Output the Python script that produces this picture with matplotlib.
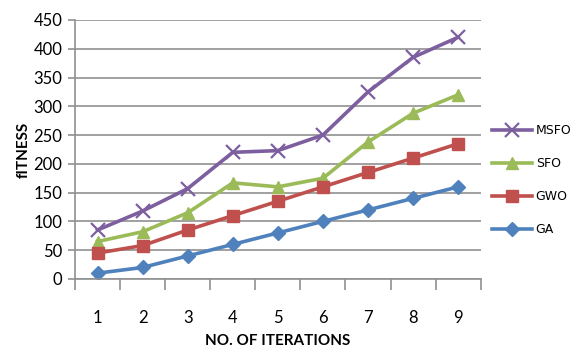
import numpy as np
import matplotlib
matplotlib.use("Agg")
import matplotlib.pyplot as plt

# dati
iterations = [1, 2, 3, 4, 5, 6, 7, 8, 9]
ga = [10, 20, 40, 60, 80, 100, 120, 140, 160]
gwo = [45, 58, 85, 110, 135, 160, 185, 210, 235]
sfo = [65, 82, 115, 167, 160, 175, 238, 288, 320]
msfo = [85, 118, 157, 220, 223, 250, 325, 385, 420]

plt.rcParams['font.family'] = ['Lato', 'DejaVu Sans']

fig = plt.figure(figsize=(5.83, 3.5), dpi=100)
ax = fig.add_axes([0.1286, 0.203, 0.696, 0.74])

# ordine legenda: MSFO, SFO, GWO, GA
ax.plot(iterations, msfo, color='#7D5FA0', lw=2.6, marker='x', ms=10, mew=1.6, label='MSFO')
ax.plot(iterations, sfo, color='#9BBB59', lw=2.6, marker='^', ms=9, label='SFO')
ax.plot(iterations, gwo, color='#C0504D', lw=2.6, marker='s', ms=8, label='GWO')
ax.plot(iterations, ga, color='#4F81BD', lw=2.6, marker='D', ms=7, label='GA')

ax.set_xlim(0.5, 9.5)
ax.set_ylim(0, 450)
ax.set_yticks(np.arange(0, 451, 50))
ax.set_xticks(iterations)
ax.set_xticks(np.arange(0.5, 9.6, 1), minor=True)
ax.tick_params(axis='x', which='major', length=0, pad=22, labelsize=12)
ax.tick_params(axis='x', which='minor', length=8, color='#909090', width=1.2)
ax.tick_params(axis='y', length=5, color='#909090', width=1.2, labelsize=12, pad=4)

ax.grid(axis='y', color='#909090', lw=1.2)
ax.set_axisbelow(True)
for s in ['top', 'right']:
    ax.spines[s].set_visible(False)
ax.spines['left'].set_color('#909090')
ax.spines['bottom'].set_color('#909090')
ax.spines['left'].set_linewidth(1.2)
ax.spines['bottom'].set_linewidth(1.2)

ax.set_xlabel('NO. OF ITERATIONS', fontweight='bold', fontsize=11, labelpad=6)
ax.set_ylabel('fITNESS', fontweight='bold', fontsize=11, labelpad=2)

ax.legend(loc='upper left', bbox_to_anchor=(1.0, 0.64), frameon=False,
          handlelength=3.2, labelspacing=1.6, handletextpad=0.3,
          prop={'family': ['Liberation Sans Narrow', 'DejaVu Sans'], 'size': 9})

fig.savefig('out.png', dpi=100)
